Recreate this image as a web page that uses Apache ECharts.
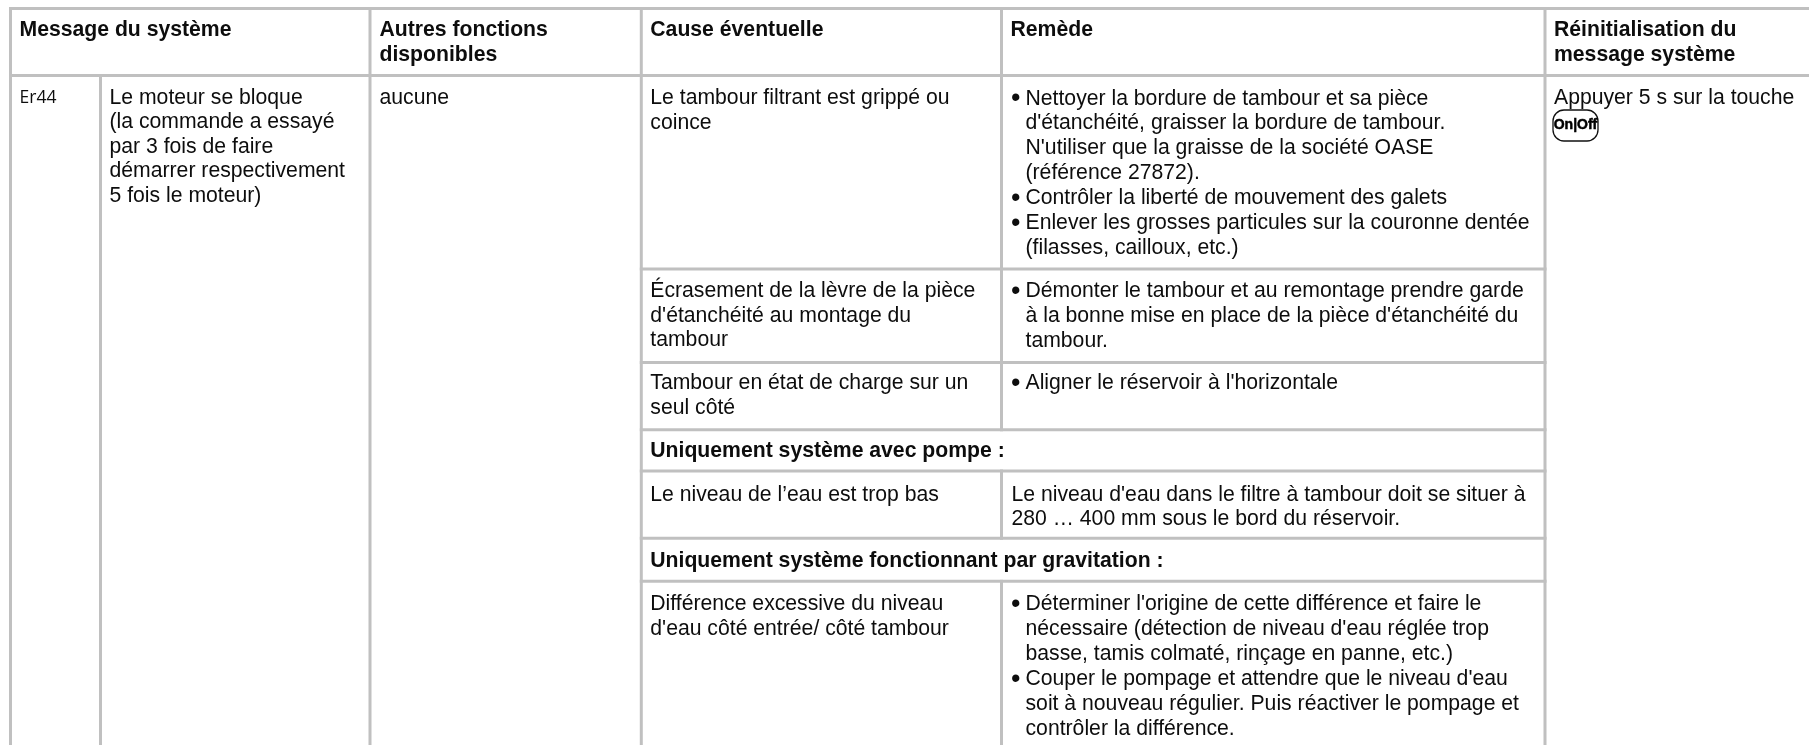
<!DOCTYPE html>
<html><head><meta charset="utf-8">
<style>html,body{margin:0;padding:0;background:#fff}#c{width:1809px;height:745px}</style>
<script src="https://cdn.jsdelivr.net/npm/echarts@6/dist/echarts.min.js"></script>
</head><body><div id="c"></div>
<script>
// ---- Content ----
const headerMessage = "Message du système";
const headerOther = ["Autres fonctions", "disponibles"];
const headerCause = "Cause éventuelle";
const headerRemedy = "Remède";
const headerReset = ["Réinitialisation du", "message système"];
const errorCode = "Er44";
const errorText = ["Le moteur se bloque", "(la commande a essayé", "par 3 fois de faire", "démarrer respectivement", "5 fois le moteur)"];
const otherFunctions = "aucune";
const resetText = "Appuyer 5 s sur la touche";
const resetKey = "On|Off";
const causes = [
  ["Le tambour filtrant est grippé ou", "coince"],
  ["Écrasement de la lèvre de la pièce", "d'étanchéité au montage du", "tambour"],
  ["Tambour en état de charge sur un", "seul côté"],
  ["Le niveau de l’eau est trop bas"],
  ["Différence excessive du niveau", "d'eau côté entrée/ côté tambour"]
];
const remedies = [
  [["Nettoyer la bordure de tambour et sa pièce", "d'étanchéité, graisser la bordure de tambour.", "N'utiliser que la graisse de la société OASE", "(référence 27872)."],
   ["Contrôler la liberté de mouvement des galets"],
   ["Enlever les grosses particules sur la couronne dentée", "(filasses, cailloux, etc.)"]],
  [["Démonter le tambour et au remontage prendre garde", "à la bonne mise en place de la pièce d'étanchéité du", "tambour."]],
  [["Aligner le réservoir à l'horizontale"]],
  null,
  [["Déterminer l'origine de cette différence et faire le", "nécessaire (détection de niveau d'eau réglée trop", "basse, tamis colmaté, rinçage en panne, etc.)"],
   ["Couper le pompage et attendre que le niveau d'eau", "soit à nouveau régulier. Puis réactiver le pompage et", "contrôler la différence."]]
];
const plainRemedy = ["Le niveau d'eau dans le filtre à tambour doit se situer à", "280 … 400 mm sous le bord du réservoir."];
const bandPump = "Uniquement système avec pompe :";
const bandGravity = "Uniquement système fonctionnant par gravitation :";

// ---- Layout (page pixels, used as axis values) ----
const X = {left:10.5, sub:100.5, other:370, cause:641.3, remedy:1001.5, reset:1545, right:1815};
const Y = {top:8.5, head:75.5, r1:269, r2:362.5, r3:429.7, band1:471, r4:538.3, band2:581.3, bottom:750};
const FS = 21.2, LH = 24.6, LINE = '#c0c0c0', LW = 3, INK = '#0d0d0d';
const FONT = '"Liberation Sans", Arial, sans-serif';
const MID = 6.8; // baseline to text-middle offset
const causeBase = [105, 298.3, 390, 501.7, 611];
const remedyBase = [105.5, 298, 390, 501.7, 611];
const remedyLH = [24.7, 24.9, 24.6, 24.6, 24.8];

const segs = [
  [X.left,Y.top,X.right,Y.top],[X.left,Y.head,X.right,Y.head],
  [X.left,Y.top,X.left,Y.bottom],[X.sub,Y.head,X.sub,Y.bottom],
  [X.other,Y.top,X.other,Y.bottom],[X.cause,Y.top,X.cause,Y.bottom],
  [X.reset,Y.top,X.reset,Y.bottom],
  [X.remedy,Y.top,X.remedy,Y.r3],[X.remedy,Y.band1,X.remedy,Y.r4],[X.remedy,Y.band2,X.remedy,Y.bottom],
  [X.cause,Y.r1,X.reset,Y.r1],[X.cause,Y.r2,X.reset,Y.r2],[X.cause,Y.r3,X.reset,Y.r3],
  [X.cause,Y.band1,X.reset,Y.band1],[X.cause,Y.r4,X.reset,Y.r4],[X.cause,Y.band2,X.reset,Y.band2]
];

const texts = [];
function put(x, base, s, bold, fam, size){ texts.push([x, base-MID, s, bold?1:0, fam||0, size||FS]); }
function block(x, base, lines, bold, lh){ lines.forEach((s,i)=>put(x, base+i*(lh||LH), s, bold)); }
const PX = 9, HB = 37.3, BB = 105;
block(X.left+PX, HB, [headerMessage], true);
block(X.other+PX+.5, HB, headerOther, true, 24.4);
block(X.cause+PX, HB, [headerCause], true);
block(X.remedy+PX, HB, [headerRemedy], true);
block(X.reset+PX, HB, headerReset, true, 24.4);
put(X.left+PX, BB-.5, errorCode, false, 1, 17.5);
block(X.sub+PX, BB, errorText, false, 24.4);
block(X.other+PX+.5, BB, [otherFunctions]);
block(X.reset+PX, BB, [resetText]);
causes.forEach((c,i)=>block(X.cause+PX, causeBase[i], c, false, 24.5));
remedies.forEach((r,i)=>{
  if(!r){ block(X.remedy+PX+1, remedyBase[i], plainRemedy); return; }
  let b = remedyBase[i];
  r.forEach(item=>{
    texts.push([X.remedy+9.6, b-6.8, "•", 0, 0, 27]);
    item.forEach(s=>{ put(X.remedy+24, b, s); b+=remedyLH[i]; });
    b+=.7;
  });
});
put(X.cause+PX, 457.7, bandPump, true);
put(X.cause+PX, 567.7, bandGravity, true);

const chart = echarts.init(document.getElementById('c'), null, {renderer:'canvas'});
chart.setOption({
  animation:false,
  grid:{left:0,top:0,right:0,bottom:0},
  xAxis:{type:'value',min:0,max:1809,show:false},
  yAxis:{type:'value',min:0,max:745,inverse:true,show:false},
  series:[
    {type:'custom',coordinateSystem:'cartesian2d',clip:false,silent:true,data:segs,
     renderItem(p,api){
       const a=api.coord([api.value(0),api.value(1)]),b=api.coord([api.value(2),api.value(3)]);
       return {type:'line',shape:{x1:a[0],y1:a[1],x2:b[0],y2:b[1]},style:{stroke:LINE,lineWidth:LW,lineCap:'square'}};
     }},
    {type:'custom',coordinateSystem:'cartesian2d',clip:false,silent:true,data:texts,
     dimensions:['x','y','s','b','f','z'],encode:{x:0,y:1},
     renderItem(p,api){
       const d=texts[p.dataIndex];const a=api.coord([d[0],d[1]]);
       return {type:'text',x:a[0],y:a[1],style:{text:d[2],fill:INK,align:'left',verticalAlign:'middle',
         font:(d[3]?'bold ':'')+d[5]+'px '+(d[4]?'"Open Sans", sans-serif':FONT)}};
     }},
    {type:'custom',coordinateSystem:'cartesian2d',clip:false,silent:true,data:[[1553,110]],
     renderItem(p,api){
       const a=api.coord([api.value(0),api.value(1)]);
       return {type:'group',children:[
         {type:'rect',shape:{x:a[0],y:a[1],width:45,height:31,r:11},style:{fill:'#fff',stroke:'#111',lineWidth:1.3}},
         {type:'text',x:a[0]+22.5,y:a[1]+15,style:{text:resetKey,fill:'#000',stroke:'#000',lineWidth:.5,align:'center',verticalAlign:'middle',font:'bold 14px '+FONT}}
       ]};
     }}
  ]
});
</script></body></html>
